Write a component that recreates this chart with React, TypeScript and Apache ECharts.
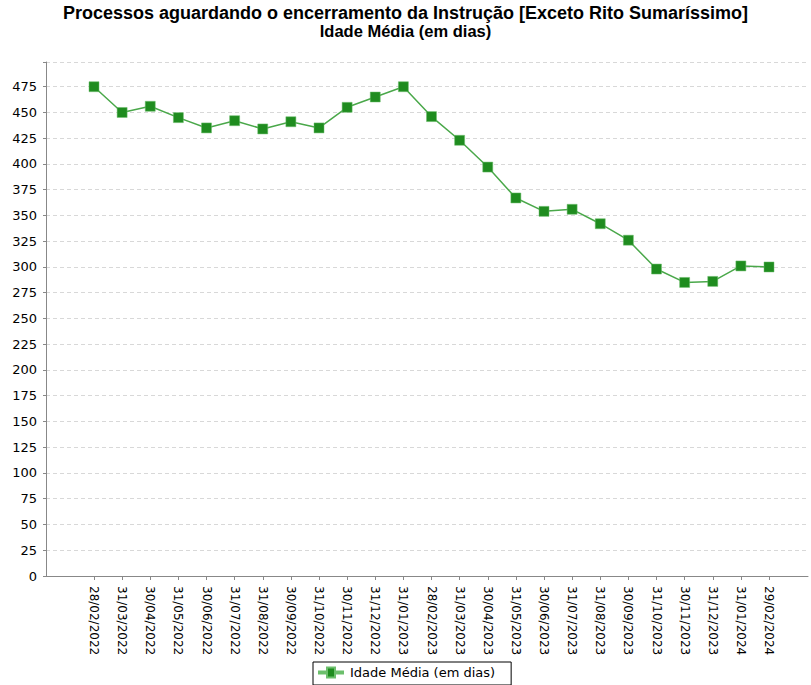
import React, { useEffect, useRef } from "react";
import * as echarts from "echarts";

const categories = [
  "28/02/2022", "31/03/2022", "30/04/2022", "31/05/2022", "30/06/2022", "31/07/2022",
  "31/08/2022", "30/09/2022", "31/10/2022", "30/11/2022", "31/12/2022", "31/01/2023",
  "28/02/2023", "31/03/2023", "30/04/2023", "31/05/2023", "30/06/2023", "31/07/2023",
  "31/08/2023", "30/09/2023", "31/10/2023", "30/11/2023", "31/12/2023", "31/01/2024",
  "29/02/2024",
];
const values = [
  475, 450, 456, 445, 435, 442, 434, 441, 435, 455, 465, 475,
  446, 423, 397, 367, 354, 356, 342, 326, 298, 285, 286, 301, 300,
];
const seriesName = "Idade Média (em dias)";
const titleLines = [
  "Processos aguardando o encerramento da Instrução [Exceto Rito Sumaríssimo]",
  "Idade Média (em dias)",
];

export default function App() {
  const ref = useRef<HTMLDivElement>(null);
  useEffect(() => {
    if (!ref.current) return;
    const chart = echarts.init(ref.current, undefined, { renderer: "svg" });
    const idx = categories.map((_, i) => i);
    const step = (769 - 94) / (categories.length - 1);
    const titleStyle = {
      fontFamily: "Liberation Sans",
      fontWeight: "bold",
      color: "#000",
    };
    chart.setOption({
      animation: false,
      backgroundColor: "#ffffff",
      title: [
        {
          text: titleLines[0],
          left: "center",
          top: 4,
          padding: 0,
          textStyle: { ...titleStyle, fontSize: 18 },
        },
        {
          text: titleLines[1],
          left: "center",
          top: 22,
          padding: 0,
          textStyle: { ...titleStyle, fontSize: 16.5 },
        },
      ],
      legend: {
        top: 662,
        left: 313,
        data: [seriesName],
        icon: "path://M0,4 L8,4 L8,0 L16,0 L16,4 L24,4 L24,6 L16,6 L16,10 L8,10 L8,6 L0,6 Z",
        itemWidth: 24,
        itemHeight: 10,
        itemGap: 4,
        borderColor: "#000",
        borderWidth: 1,
        borderRadius: 0,
        padding: [4, 16, 6, 5],
        textStyle: { fontFamily: "DejaVu Sans", fontSize: 13, color: "#000", padding: [0, 0, 0, 2] },
      },
      grid: { left: 46, right: 3, top: 62, bottom: 109, containLabel: false },
      xAxis: {
        type: "value",
        min: -48 / step,
        max: categories.length - 1 + 39 / step,
        axisLine: { show: true, onZero: false, lineStyle: { color: "#888", width: 1 } },
        axisTick: {
          show: true,
          customValues: idx,
          length: 4,
          lineStyle: { color: "#888" },
        },
        splitLine: { show: false },
        axisLabel: {
          customValues: idx,
          rotate: -90,
          margin: 10,
          fontFamily: "DejaVu Sans",
          fontSize: 12,
          color: "#000",
          formatter: (v: number) => categories[Math.round(v)] ?? "",
        },
      },
      yAxis: {
        type: "value",
        min: 0,
        max: 499,
        interval: 25,
        axisLine: { show: true, onZero: false, lineStyle: { color: "#888", width: 1 } },
        axisTick: { show: true, length: 3, lineStyle: { color: "#888" } },
        splitLine: {
          show: true,
          lineStyle: { color: "#d8d8d8", type: [4, 3], width: 1 },
        },
        axisLabel: {
          fontFamily: "DejaVu Sans",
          fontSize: 13,
          color: "#000",
          margin: 9,
          formatter: (v: number) => (v % 25 === 0 && v <= 475 ? String(v) : ""),
        },
      },
      series: [
        {
          name: seriesName,
          type: "line",
          data: values.map((v, i) => [i, v]),
          symbol: "rect",
          symbolSize: 10,
          lineStyle: { color: "#4aa84a", width: 1.5 },
          itemStyle: { color: "#1f8c1f", borderColor: "#6cbf6c", borderWidth: 0.5 },
        },
      ],
    });
    return () => chart.dispose();
  }, []);
  return <div ref={ref} style={{ width: 811, height: 685, position: "absolute", left: 0, top: 0 }} />;
}
